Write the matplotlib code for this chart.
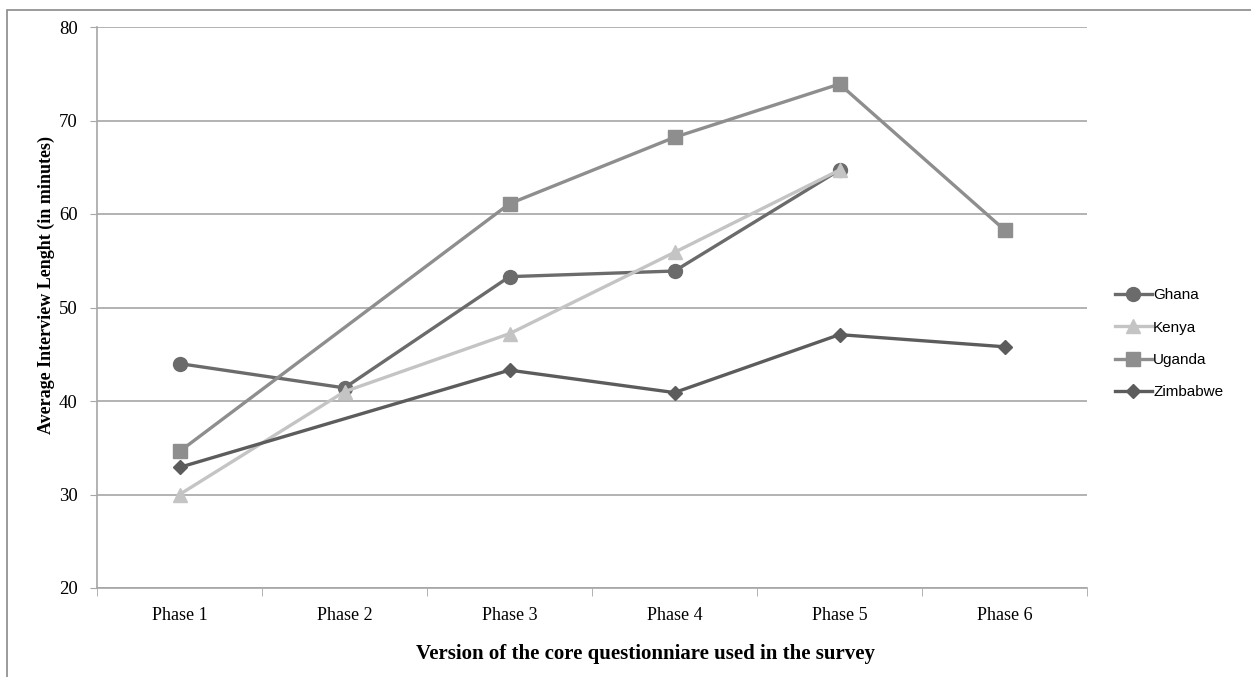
import numpy as np
import matplotlib
matplotlib.use('Agg')
import matplotlib.pyplot as plt
from matplotlib.patches import Rectangle

# Average interview length (minutes) per version of the core questionnaire
phases = ['Phase 1', 'Phase 2', 'Phase 3', 'Phase 4', 'Phase 5', 'Phase 6']
ghana = [44.0, 41.4, 53.3, 53.9, 64.7, np.nan]
kenya = [30.0, 41.0, 47.2, 55.9, 64.7, np.nan]
uganda = [34.6, np.nan, 61.1, 68.2, 73.9, 58.3]
zimbabwe = [32.9, np.nan, 43.3, 40.9, 47.1, 45.8]

series = [
    ('Ghana', ghana, '#6b6b6b', 'o', 10),
    ('Kenya', kenya, '#c4c4c4', '^', 10),
    ('Uganda', uganda, '#8e8e8e', 's', 10),
    ('Zimbabwe', zimbabwe, '#5c5c5c', 'D', 7.5),
]

serif = 'Liberation Serif'
fig = plt.figure(figsize=(12.51, 6.77), dpi=100)
W, H = 1251, 677
ax = fig.add_axes([97 / W, (H - 588) / H, 990 / W, 561 / H])

# chart area border (runs off the right and bottom edges)
fig.patches.append(Rectangle((7 / W, -0.1), 1.2, (H - 10) / H + 0.1,
                             transform=fig.transFigure, fill=False,
                             edgecolor='#8a8a8a', linewidth=1.2))

x = np.arange(len(phases))
for name, vals, col, mk, ms in series:
    v = np.array(vals, dtype=float)
    ok = ~np.isnan(v)
    ax.plot(x[ok], v[ok], color=col, linewidth=2.4, marker=mk, markersize=ms,
            label=name, zorder=3)

ax.set_xlim(-0.5, len(phases) - 0.5)
ax.set_ylim(20, 80)
ax.set_yticks(range(20, 81, 10))
ax.yaxis.grid(True, color='#a6a6a6', linewidth=1.2)
ax.set_axisbelow(True)

ax.set_xticks(x)
ax.set_xticklabels(phases, fontfamily=serif, fontsize=13)
ax.set_xticks(np.arange(-0.5, len(phases)), minor=True)
ax.tick_params(axis='x', which='major', length=0, pad=14)
ax.tick_params(axis='x', which='minor', length=6, color='#a6a6a6', direction='out')
ax.tick_params(axis='y', length=5, color='#a6a6a6', pad=9)
for lbl in ax.get_yticklabels():
    lbl.set_fontfamily(serif)
    lbl.set_fontsize(13.5)

for s in ['top', 'right']:
    ax.spines[s].set_visible(False)
for s in ['left', 'bottom']:
    ax.spines[s].set_color('#a6a6a6')
    ax.spines[s].set_linewidth(1.2)

ax.set_ylabel('Average Interview Lenght (in minutes)', fontfamily=serif,
              fontsize=13, fontweight='bold')
ax.yaxis.set_label_coords(-0.042, 0.54)
ax.set_xlabel('Version of the core questionniare used in the survey',
              fontfamily=serif, fontsize=15, fontweight='bold')
ax.xaxis.set_label_coords(0.5545, -0.1)

ax.legend(loc='center left', bbox_to_anchor=(1.022, 0.435), frameon=False,
          prop={'family': 'Liberation Sans', 'size': 11}, handlelength=2.4,
          handletextpad=0.1, labelspacing=1.2, borderaxespad=0)

fig.savefig('out.png', dpi=100)
